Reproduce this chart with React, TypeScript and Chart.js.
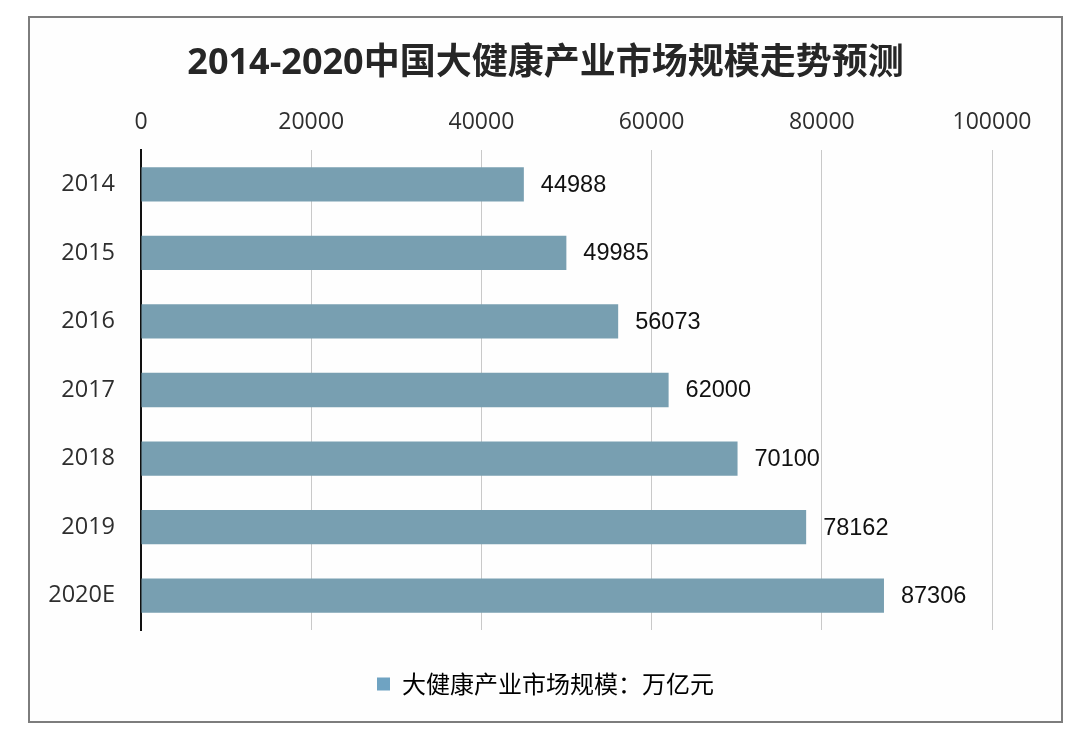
import React, { useEffect, useRef } from "react";
import { Chart, registerables } from "chart.js";

Chart.register(...registerables);

const categories = ["2014", "2015", "2016", "2017", "2018", "2019", "2020E"];
const marketSize = [44988, 49985, 56073, 62000, 70100, 78162, 87306];
const seriesLabel = "大健康产业市场规模：万亿元";
const chartTitle = "2014-2020中国大健康产业市场规模走势预测";
const axisMin = 0;
const axisMax = 100000;
const axisStep = 20000;

const BAR_COLOR = "#789fb1";
const LEGEND_COLOR = "#6fa3c2";

const valueLabels = {
  id: "valueLabels",
  afterDatasetsDraw(chart: any) {
    const ctx = chart.ctx;
    const meta = chart.getDatasetMeta(0);
    const data = chart.data.datasets[0].data;
    ctx.save();
    ctx.font = "23.5px 'Liberation Sans', Arial, sans-serif";
    ctx.fillStyle = "#111111";
    ctx.textAlign = "left";
    ctx.textBaseline = "middle";
    meta.data.forEach((el: any, i: number) => {
      ctx.fillText(String(data[i]), el.x + 17, el.y + 1);
    });
    ctx.restore();
  },
};

export default function App() {
  const ref = useRef<HTMLCanvasElement | null>(null);

  useEffect(() => {
    document.body.style.margin = "0";
    const canvas = ref.current;
    if (!canvas) return;
    const chart = new Chart(canvas, {
      type: "bar",
      data: {
        labels: categories,
        datasets: [
          {
            label: seriesLabel,
            data: marketSize,
            backgroundColor: BAR_COLOR,
            borderWidth: 0,
            barPercentage: 0.5,
            categoryPercentage: 1,
            yAxisID: "y",
          },
        ],
      },
      options: {
        indexAxis: "y",
        responsive: false,
        animation: false,
        layout: { padding: { left: 0, right: 0, top: 0, bottom: 15 } },
        scales: {
          x: {
            position: "top",
            min: axisMin,
            max: axisMax,
            ticks: {
              stepSize: axisStep,
              color: "#2e2e2e",
              padding: 14,
              font: { size: 23, family: "'Open Sans', 'Noto Sans', sans-serif" },
              callback: (v: any) => String(v),
            },
            grid: { color: "#c9c9c9", lineWidth: 1, drawTicks: false },
            border: { display: false },
            afterFit(scale: any) {
              scale.height = 41.6;
            },
          },
          y: {
            position: "left",
            ticks: {
              color: "#2e2e2e",
              padding: 26,
              font: { size: 23.5, family: "'Open Sans', 'Noto Sans', sans-serif" },
            },
            grid: { display: false, drawTicks: false },
            border: { display: true, color: "#111111", width: 2 },
            afterFit(scale: any) {
              scale.width = 111;
            },
          },
          spacer: {
            type: "linear",
            position: "right",
            display: true,
            ticks: { display: false },
            grid: { display: false, drawTicks: false },
            border: { display: false },
            afterFit(scale: any) {
              scale.width = 69;
            },
          },
        },
        plugins: {
          title: {
            display: true,
            text: chartTitle,
            color: "#262626",
            font: {
              size: 36,
              weight: "bold",
              family: "'Open Sans', 'Noto Sans CJK SC', sans-serif",
            },
            padding: { top: 24.4, bottom: 22.8 },
          },
          legend: {
            display: true,
            position: "bottom",
            labels: {
              boxWidth: 13,
              boxHeight: 13,
              padding: 42,
              color: "#222222",
              font: { size: 24, family: "'Noto Sans CJK SC', sans-serif" },
              generateLabels: () => [
                {
                  text: seriesLabel,
                  fillStyle: LEGEND_COLOR,
                  strokeStyle: LEGEND_COLOR,
                  lineWidth: 0,
                  hidden: false,
                  datasetIndex: 0,
                },
              ],
            },
          },
          tooltip: { enabled: false },
        },
      },
      plugins: [valueLabels],
    });
    return () => chart.destroy();
  }, []);

  return (
    <div style={{ position: "absolute", left: 0, top: 0, width: 1068, height: 732, background: "#ffffff" }}>
      <div
        style={{
          position: "absolute",
          left: 28,
          top: 16,
          width: 1035,
          height: 707,
          boxSizing: "border-box",
          border: "2px solid #7d7d7d",
          background: "#fefefe",
        }}
      />
      <canvas
        ref={ref}
        width={1031}
        height={703}
        style={{ position: "absolute", left: 30, top: 18, width: 1031, height: 703 }}
      />
    </div>
  );
}
